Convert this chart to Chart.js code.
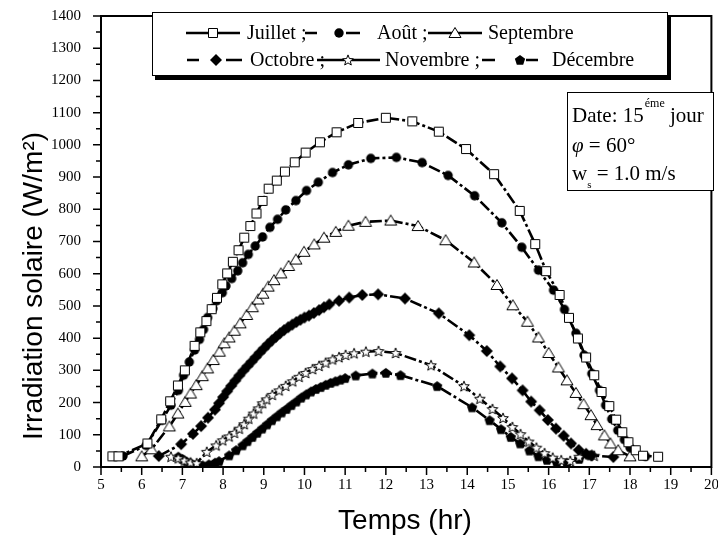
<!DOCTYPE html>
<html>
<head>
<meta charset="utf-8">
<script src="https://cdn.jsdelivr.net/npm/chart.js@4.4.1/dist/chart.umd.min.js"></script>
<style>
  html, body { margin: 0; padding: 0; background: #fff; }
  #wrap { width: 718px; height: 539px; }
</style>
</head>
<body>
<div id="wrap"><canvas id="chart" width="718" height="539"></canvas></div>
<script>
// Temps (hr) / Irradiation solaire (W/m2), 15e jour, phi = 60°, ws = 1.0 m/s
const julHours = [5.28, 5.43, 6.14, 6.48, 6.70, 6.89, 7.06, 7.30, 7.44, 7.59, 7.72, 7.85, 7.98, 8.10, 8.24, 8.38, 8.52, 8.67, 8.82, 8.97, 9.12, 9.32, 9.52, 9.76, 10.03, 10.38, 10.79, 11.32, 12.00, 12.65, 13.30, 13.97, 14.66, 15.29, 15.67, 15.94, 16.27, 16.50, 16.72, 16.92, 17.12, 17.30, 17.49, 17.66, 17.81, 17.96, 18.14, 18.32, 18.69];
const julIrr   = [33, 33, 73, 148, 204, 253, 300, 376, 418, 453, 490, 525, 567, 601, 637, 673, 712, 748, 787, 826, 864, 889, 917, 946, 976, 1008, 1039, 1068, 1084, 1073, 1041, 987, 909, 795, 692, 608, 534, 463, 399, 340, 285, 233, 189, 147, 108, 77, 52, 35, 32];

const aouHours = [5.54, 6.11, 6.50, 6.72, 6.90, 7.03, 7.17, 7.30, 7.42, 7.52, 7.62, 7.75, 7.84, 7.98, 8.07, 8.21, 8.36, 8.48, 8.62, 8.79, 8.97, 9.15, 9.34, 9.54, 9.79, 10.05, 10.34, 10.69, 11.08, 11.63, 12.26, 12.89, 13.53, 14.18, 14.85, 15.34, 15.75, 16.12, 16.39, 16.67, 16.87, 17.06, 17.25, 17.40, 17.55, 17.70, 17.86, 18.00, 18.38];
const aouIrr   = [34, 67, 145, 192, 238, 285, 326, 363, 396, 427, 464, 492, 516, 541, 562, 585, 609, 634, 660, 686, 714, 744, 769, 798, 827, 858, 884, 914, 938, 958, 961, 945, 905, 842, 758, 682, 611, 549, 489, 415, 347, 290, 238, 192, 149, 114, 85, 60, 33];

const sepHours = [6.00, 6.24, 6.68, 6.89, 7.07, 7.20, 7.34, 7.49, 7.62, 7.76, 7.91, 8.03, 8.15, 8.28, 8.42, 8.58, 8.72, 8.86, 8.98, 9.11, 9.25, 9.42, 9.61, 9.79, 9.99, 10.24, 10.48, 10.77, 11.08, 11.50, 12.12, 12.79, 13.47, 14.17, 14.73, 15.12, 15.48, 15.75, 16.00, 16.24, 16.45, 16.67, 16.86, 17.04, 17.19, 17.37, 17.52, 17.71, 18.00];
const sepIrr   = [33, 55, 126, 166, 202, 228, 254, 282, 306, 332, 358, 384, 402, 423, 446, 472, 496, 520, 538, 560, 580, 601, 624, 644, 668, 691, 712, 730, 749, 761, 765, 748, 704, 635, 565, 502, 451, 402, 354, 309, 269, 230, 195, 161, 130, 98, 73, 52, 33];

const octHours = [6.42, 6.97, 7.26, 7.46, 7.63, 7.80, 7.90, 8.00, 8.10, 8.20, 8.30, 8.40, 8.50, 8.60, 8.70, 8.80, 8.90, 9.00, 9.10, 9.20, 9.30, 9.40, 9.50, 9.60, 9.70, 9.80, 9.90, 10.00, 10.11, 10.23, 10.36, 10.48, 10.61, 10.85, 11.10, 11.42, 11.81, 12.47, 13.30, 14.05, 14.48, 14.81, 15.10, 15.36, 15.57, 15.78, 15.98, 16.18, 16.37, 16.55, 16.74, 16.92, 17.06, 17.59];
const octIrr   = [34, 71, 103, 127, 153, 178, 198, 217, 235, 252, 268, 284, 299, 313, 327, 341, 355, 368, 381, 393, 404, 415, 425, 434, 442, 450, 457, 464, 470, 478, 487, 496, 505, 516, 526, 534, 536, 523, 477, 409, 360, 312, 275, 238, 203, 176, 146, 119, 97, 73, 53, 41, 36, 31];

const novHours = [6.72, 6.90, 7.05, 7.20, 7.35, 7.60, 7.83, 7.99, 8.15, 8.28, 8.40, 8.52, 8.63, 8.75, 8.87, 8.97, 9.07, 9.21, 9.38, 9.54, 9.71, 9.87, 10.03, 10.20, 10.36, 10.52, 10.69, 10.85, 11.01, 11.22, 11.51, 11.82, 12.24, 13.11, 13.92, 14.31, 14.62, 14.88, 15.11, 15.31, 15.51, 15.70, 15.90, 16.10, 16.31, 16.53, 16.75, 17.12];
const novIrr   = [32, 27, 20, 14, 12, 47, 67, 83, 95, 106, 119, 133, 150, 166, 182, 198, 210, 224, 238, 252, 266, 280, 292, 304, 314, 324, 334, 341, 348, 353, 358, 360, 354, 316, 251, 212, 180, 152, 124, 102, 79, 60, 43, 29, 21, 19, 32, 35];

const decHours = [6.90, 7.00, 7.10, 7.22, 7.36, 7.50, 7.65, 7.80, 7.90, 8.15, 8.32, 8.48, 8.60, 8.72, 8.84, 8.96, 9.08, 9.20, 9.32, 9.44, 9.56, 9.68, 9.80, 9.92, 10.04, 10.16, 10.28, 10.40, 10.52, 10.64, 10.76, 10.88, 11.00, 11.26, 11.67, 12.00, 12.36, 13.26, 14.12, 14.55, 14.83, 15.07, 15.30, 15.53, 15.75, 15.96, 16.20, 16.45, 16.75, 17.02];
const decIrr   = [32, 25, 17, 11, 7, 5, 8, 13, 18, 36, 52, 67, 80, 93, 106, 119, 132, 145, 157, 169, 180, 192, 203, 215, 225, 234, 242, 248, 255, 261, 266, 271, 276, 284, 290, 292, 285, 251, 185, 145, 117, 93, 73, 51, 33, 22, 14, 13, 25, 36];

const monthNames = ['Juillet', 'Août', 'Septembre', 'Octobre', 'Novembre', 'Décembre'];
const xTicks = { min: 5, max: 20, step: 1 };
const yTicks = { min: 0, max: 1400, step: 100 };

// marker images, shared by the plot and the legend
function makeMarker(kind) {
    const c = document.createElement('canvas');
    c.width = 16;
    c.height = 16;
    const g = c.getContext('2d');
    g.translate(8, 8);
    g.lineWidth = 1;
    g.strokeStyle = '#000';
    g.fillStyle = '#000';
    g.beginPath();
    if (kind === 'square') {
        g.rect(-4.5, -4.5, 9, 9);
    } else if (kind === 'circle') {
        g.arc(0, 0, 4.7, 0, Math.PI * 2);
    } else if (kind === 'triangle') {
        g.moveTo(0, -5.5); g.lineTo(6, 4.5); g.lineTo(-6, 4.5); g.closePath();
    } else if (kind === 'diamond') {
        g.moveTo(0, -6); g.lineTo(6, 0); g.lineTo(0, 6); g.lineTo(-6, 0); g.closePath();
    } else if (kind === 'star') {
        for (let i = 0; i < 10; i++) {
            const r = i % 2 ? 2.4 : 5.6;
            const a = -Math.PI / 2 + i * Math.PI / 5;
            g.lineTo(r * Math.cos(a), r * Math.sin(a) + 0.5);
        }
        g.closePath();
    } else if (kind === 'pentagon') {
        for (let i = 0; i < 5; i++) {
            const a = -Math.PI / 2 + i * 2 * Math.PI / 5;
            g.lineTo(5.4 * Math.cos(a), 5.4 * Math.sin(a) + 0.5);
        }
        g.closePath();
    }
    const open = kind === 'square' || kind === 'triangle' || kind === 'star';
    if (open) {
        g.fillStyle = '#fff';
        g.fill();
        g.stroke();
    } else {
        g.fill();
    }
    return c;
}

const MARKERS = {
    jul: makeMarker('square'),
    aou: makeMarker('circle'),
    sep: makeMarker('triangle'),
    oct: makeMarker('diamond'),
    nov: makeMarker('star'),
    dec: makeMarker('pentagon')
};

function toPoints(hours, values) {
    return hours.map((h, i) => ({ x: h, y: values[i] }));
}

function makeDataset(label, hours, values, marker) {
    return {
        label,
        data: toPoints(hours, values),
        showLine: true,
        borderColor: '#000',
        borderWidth: 2.6,
        borderDash: [12, 3, 3, 3],
        tension: 0,
        pointStyle: marker,
        pointRadius: 4,
        pointHoverRadius: 4
    };
}

const serif = '"Liberation Serif", "Times New Roman", serif';
const sans = '"Liberation Sans", Arial, sans-serif';

const decorPlugin = {
    id: 'decor',
    beforeDraw(chart) {
        const ctx = chart.ctx;
        ctx.save();
        ctx.fillStyle = '#fff';
        ctx.fillRect(0, 0, chart.width, chart.height);
        ctx.restore();
    },
    afterDraw(chart) {
        const ctx = chart.ctx;
        const a = chart.chartArea;
        const xs = chart.scales.x;
        const ys = chart.scales.y;
        ctx.save();

        // frame
        ctx.strokeStyle = '#000';
        ctx.lineWidth = 2;
        ctx.strokeRect(a.left, a.top, a.right - a.left, a.bottom - a.top);

        // major and minor ticks, outside
        ctx.lineWidth = 1.5;
        ctx.beginPath();
        for (let v = yTicks.min; v <= yTicks.max; v += yTicks.step / 2) {
            const p = ys.getPixelForValue(v);
            ctx.moveTo(a.left, p);
            ctx.lineTo(a.left - (v % yTicks.step ? 5 : 8), p);
        }
        for (let v = xTicks.min; v <= xTicks.max; v += xTicks.step / 2) {
            const p = xs.getPixelForValue(v);
            ctx.moveTo(p, a.bottom);
            ctx.lineTo(p, a.bottom + (v % xTicks.step ? 5 : 8));
        }
        ctx.stroke();

        // axis titles
        ctx.fillStyle = '#000';
        ctx.font = '28px ' + sans;
        ctx.textAlign = 'center';
        ctx.textBaseline = 'middle';
        ctx.fillText('Temps (hr)', 405, 521);
        ctx.save();
        ctx.translate(34, 286);
        ctx.rotate(-Math.PI / 2);
        ctx.fillText('Irradiation solaire (W/m²)', 0, 0);
        ctx.restore();

        // legend box with shadow
        ctx.fillStyle = '#000';
        ctx.fillRect(155, 15, 516, 65);
        ctx.fillStyle = '#fff';
        ctx.fillRect(152, 12, 516, 64);
        ctx.lineWidth = 1;
        ctx.strokeRect(152.5, 12.5, 515, 63);

        const r1 = 33, r2 = 60;
        ctx.lineWidth = 2.6;
        ctx.beginPath();
        // solid samples
        ctx.moveTo(186, r1); ctx.lineTo(240, r1);
        ctx.moveTo(428, r1); ctx.lineTo(482, r1);
        ctx.moveTo(317, r2); ctx.lineTo(380, r2);
        // dashed samples
        ctx.moveTo(305, r1); ctx.lineTo(317, r1);
        ctx.moveTo(346, r1); ctx.lineTo(360, r1);
        ctx.moveTo(187, r2); ctx.lineTo(199, r2);
        ctx.moveTo(226, r2); ctx.lineTo(242, r2);
        ctx.moveTo(482, r2); ctx.lineTo(495, r2);
        ctx.moveTo(526, r2); ctx.lineTo(538, r2);
        ctx.stroke();

        const mk = (img, x, y) => ctx.drawImage(img, Math.round(x) - 8, Math.round(y) - 8);
        mk(MARKERS.jul, 213, r1);
        mk(MARKERS.aou, 339, r1);
        mk(MARKERS.sep, 455, r1);
        mk(MARKERS.oct, 216, r2);
        mk(MARKERS.nov, 348, r2);
        mk(MARKERS.dec, 520, r2);

        ctx.fillStyle = '#000';
        ctx.font = '20px ' + serif;
        ctx.textBaseline = 'middle';
        ctx.textAlign = 'left';
        ctx.fillText(monthNames[0] + ' ;', 247, r1 + 1);
        ctx.fillText(monthNames[1] + ' ;', 377, r1 + 1);
        ctx.fillText(monthNames[2], 488, r1 + 1);
        ctx.fillText(monthNames[3] + ' ;', 250, r2 + 1);
        ctx.fillText(monthNames[4] + ' ;', 385, r2 + 1);
        ctx.fillText(monthNames[5], 552, r2 + 1);

        // annotation box
        ctx.fillStyle = '#fff';
        ctx.fillRect(567, 92, 147, 99);
        ctx.lineWidth = 1;
        ctx.strokeRect(567.5, 92.5, 146, 98);
        ctx.fillStyle = '#000';
        ctx.textBaseline = 'alphabetic';
        let x = 572;
        ctx.font = '21px ' + serif;
        ctx.fillText('Date: 15', x, 122);
        x += ctx.measureText('Date: 15').width + 1;
        ctx.font = '12px ' + serif;
        ctx.fillText('éme', x, 107);
        x += ctx.measureText('éme').width;
        ctx.font = '21px ' + serif;
        ctx.fillText(' jour', x, 122);

        x = 572;
        ctx.font = 'italic 21px ' + serif;
        ctx.fillText('φ', x, 152);
        x += ctx.measureText('φ').width;
        ctx.font = '21px ' + serif;
        ctx.fillText(' = 60°', x, 152);

        x = 572;
        ctx.fillText('w', x, 180);
        x += ctx.measureText('w').width;
        ctx.font = '11px ' + serif;
        ctx.fillText('s', x, 188);
        x += ctx.measureText('s').width;
        ctx.font = '21px ' + serif;
        ctx.fillText(' = 1.0 m/s', x, 180);

        ctx.restore();
    }
};

new Chart(document.getElementById('chart'), {
    type: 'scatter',
    data: {
        datasets: [
            makeDataset(monthNames[0], julHours, julIrr, MARKERS.jul),
            makeDataset(monthNames[1], aouHours, aouIrr, MARKERS.aou),
            makeDataset(monthNames[2], sepHours, sepIrr, MARKERS.sep),
            makeDataset(monthNames[3], octHours, octIrr, MARKERS.oct),
            makeDataset(monthNames[4], novHours, novIrr, MARKERS.nov),
            makeDataset(monthNames[5], decHours, decIrr, MARKERS.dec)
        ]
    },
    options: {
        responsive: false,
        animation: false,
        devicePixelRatio: 1,
        layout: { padding: { top: 16, right: 4, bottom: 0, left: 0 } },
        plugins: {
            legend: { display: false },
            tooltip: { enabled: false }
        },
        scales: {
            x: {
                type: 'linear',
                min: xTicks.min,
                max: xTicks.max,
                afterFit(s) { s.height = 72; s.paddingLeft = 0; s.paddingRight = 0; },
                grid: { display: false, drawTicks: false },
                border: { display: false },
                ticks: {
                    stepSize: xTicks.step,
                    autoSkip: false,
                    maxRotation: 0,
                    padding: 9,
                    color: '#000',
                    font: { family: serif, size: 15 },
                    callback: v => v
                },
                title: { display: false }
            },
            y: {
                min: yTicks.min,
                max: yTicks.max,
                afterFit(s) { s.width = 101; s.paddingTop = 0; s.paddingBottom = 0; },
                grid: { display: false, drawTicks: false },
                border: { display: false },
                ticks: {
                    stepSize: yTicks.step,
                    padding: 20,
                    color: '#000',
                    font: { family: serif, size: 15 },
                    callback: v => v
                },
                title: { display: false }
            }
        }
    },
    plugins: [decorPlugin]
});
</script>
</body>
</html>
